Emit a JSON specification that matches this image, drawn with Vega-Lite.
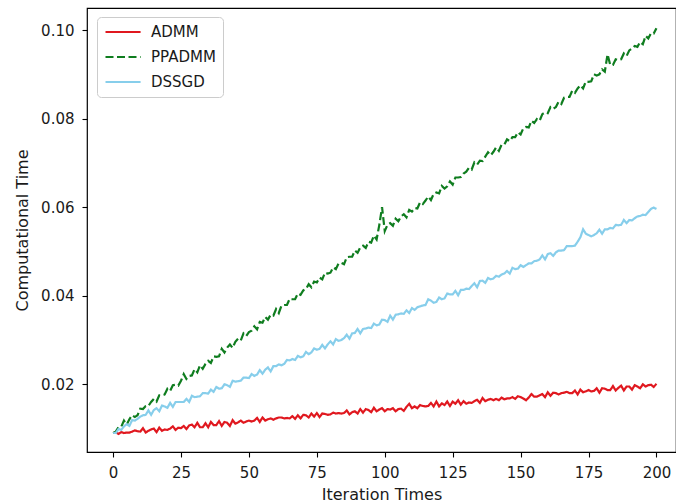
{
"$schema": "https://vega.github.io/schema/vega-lite/v6.json",
"width": 589, "height": 444,
"autosize": {"type": "none"},
"padding": {"left": 87, "top": 8, "right": 0, "bottom": 51},
"background": "white",
"config": {
  "font": "DejaVu Sans",
  "view": {"stroke": "black", "strokeWidth": 1.2},
  "axis": {"grid": false, "domain": false, "tickColor": "black", "tickSize": 5, "tickWidth": 1.1, "labelFont": "DejaVu Sans", "labelFontSize": 15, "labelColor": "#1a1a1a", "labelPadding": 8, "titleFont": "DejaVu Sans", "titleFontSize": 16, "titleFontWeight": "normal", "titleColor": "#1a1a1a"}
},
"data": {"values": [
{"t":0,"ADMM":0.0090,"PPADMM":0.0090,"DSSGD":0.0090},
{"t":1,"ADMM":0.0091,"PPADMM":0.0093,"DSSGD":0.0090},
{"t":2,"ADMM":0.0088,"PPADMM":0.0103,"DSSGD":0.0099},
{"t":3,"ADMM":0.0092,"PPADMM":0.0104,"DSSGD":0.0097},
{"t":4,"ADMM":0.0090,"PPADMM":0.0118,"DSSGD":0.0105},
{"t":5,"ADMM":0.0091,"PPADMM":0.0109,"DSSGD":0.0110},
{"t":6,"ADMM":0.0091,"PPADMM":0.0121,"DSSGD":0.0106},
{"t":7,"ADMM":0.0093,"PPADMM":0.0130,"DSSGD":0.0119},
{"t":8,"ADMM":0.0096,"PPADMM":0.0126,"DSSGD":0.0118},
{"t":9,"ADMM":0.0094,"PPADMM":0.0130,"DSSGD":0.0122},
{"t":10,"ADMM":0.0093,"PPADMM":0.0145,"DSSGD":0.0127},
{"t":11,"ADMM":0.0101,"PPADMM":0.0144,"DSSGD":0.0130},
{"t":12,"ADMM":0.0091,"PPADMM":0.0151,"DSSGD":0.0131},
{"t":13,"ADMM":0.0095,"PPADMM":0.0151,"DSSGD":0.0141},
{"t":14,"ADMM":0.0098,"PPADMM":0.0160,"DSSGD":0.0131},
{"t":15,"ADMM":0.0100,"PPADMM":0.0167,"DSSGD":0.0142},
{"t":16,"ADMM":0.0092,"PPADMM":0.0161,"DSSGD":0.0146},
{"t":17,"ADMM":0.0102,"PPADMM":0.0175,"DSSGD":0.0139},
{"t":18,"ADMM":0.0095,"PPADMM":0.0175,"DSSGD":0.0152},
{"t":19,"ADMM":0.0098,"PPADMM":0.0177,"DSSGD":0.0150},
{"t":20,"ADMM":0.0097,"PPADMM":0.0190,"DSSGD":0.0147},
{"t":21,"ADMM":0.0100,"PPADMM":0.0185,"DSSGD":0.0158},
{"t":22,"ADMM":0.0105,"PPADMM":0.0198,"DSSGD":0.0149},
{"t":23,"ADMM":0.0097,"PPADMM":0.0199,"DSSGD":0.0160},
{"t":24,"ADMM":0.0102,"PPADMM":0.0197,"DSSGD":0.0160},
{"t":25,"ADMM":0.0101,"PPADMM":0.0208,"DSSGD":0.0160},
{"t":26,"ADMM":0.0106,"PPADMM":0.0223,"DSSGD":0.0160},
{"t":27,"ADMM":0.0099,"PPADMM":0.0212,"DSSGD":0.0167},
{"t":28,"ADMM":0.0107,"PPADMM":0.0219,"DSSGD":0.0160},
{"t":29,"ADMM":0.0109,"PPADMM":0.0220,"DSSGD":0.0174},
{"t":30,"ADMM":0.0103,"PPADMM":0.0234,"DSSGD":0.0171},
{"t":31,"ADMM":0.0113,"PPADMM":0.0227,"DSSGD":0.0172},
{"t":32,"ADMM":0.0103,"PPADMM":0.0243,"DSSGD":0.0173},
{"t":33,"ADMM":0.0103,"PPADMM":0.0235,"DSSGD":0.0180},
{"t":34,"ADMM":0.0112,"PPADMM":0.0246,"DSSGD":0.0180},
{"t":35,"ADMM":0.0103,"PPADMM":0.0253,"DSSGD":0.0179},
{"t":36,"ADMM":0.0115,"PPADMM":0.0248,"DSSGD":0.0188},
{"t":37,"ADMM":0.0108,"PPADMM":0.0263,"DSSGD":0.0183},
{"t":38,"ADMM":0.0108,"PPADMM":0.0262,"DSSGD":0.0194},
{"t":39,"ADMM":0.0117,"PPADMM":0.0263,"DSSGD":0.0190},
{"t":40,"ADMM":0.0106,"PPADMM":0.0280,"DSSGD":0.0191},
{"t":41,"ADMM":0.0115,"PPADMM":0.0272,"DSSGD":0.0200},
{"t":42,"ADMM":0.0113,"PPADMM":0.0283,"DSSGD":0.0198},
{"t":43,"ADMM":0.0106,"PPADMM":0.0290,"DSSGD":0.0194},
{"t":44,"ADMM":0.0119,"PPADMM":0.0282,"DSSGD":0.0208},
{"t":45,"ADMM":0.0111,"PPADMM":0.0296,"DSSGD":0.0206},
{"t":46,"ADMM":0.0114,"PPADMM":0.0303,"DSSGD":0.0207},
{"t":47,"ADMM":0.0118,"PPADMM":0.0299,"DSSGD":0.0208},
{"t":48,"ADMM":0.0113,"PPADMM":0.0315,"DSSGD":0.0215},
{"t":49,"ADMM":0.0116,"PPADMM":0.0309,"DSSGD":0.0215},
{"t":50,"ADMM":0.0118,"PPADMM":0.0318,"DSSGD":0.0214},
{"t":51,"ADMM":0.0116,"PPADMM":0.0321,"DSSGD":0.0223},
{"t":52,"ADMM":0.0118,"PPADMM":0.0331,"DSSGD":0.0219},
{"t":53,"ADMM":0.0124,"PPADMM":0.0324,"DSSGD":0.0222},
{"t":54,"ADMM":0.0115,"PPADMM":0.0341,"DSSGD":0.0232},
{"t":55,"ADMM":0.0125,"PPADMM":0.0339,"DSSGD":0.0224},
{"t":56,"ADMM":0.0118,"PPADMM":0.0352,"DSSGD":0.0233},
{"t":57,"ADMM":0.0121,"PPADMM":0.0346,"DSSGD":0.0238},
{"t":58,"ADMM":0.0123,"PPADMM":0.0357,"DSSGD":0.0229},
{"t":59,"ADMM":0.0120,"PPADMM":0.0355,"DSSGD":0.0241},
{"t":60,"ADMM":0.0123,"PPADMM":0.0370,"DSSGD":0.0241},
{"t":61,"ADMM":0.0125,"PPADMM":0.0361,"DSSGD":0.0245},
{"t":62,"ADMM":0.0125,"PPADMM":0.0378,"DSSGD":0.0243},
{"t":63,"ADMM":0.0123,"PPADMM":0.0379,"DSSGD":0.0246},
{"t":64,"ADMM":0.0124,"PPADMM":0.0379,"DSSGD":0.0255},
{"t":65,"ADMM":0.0123,"PPADMM":0.0393,"DSSGD":0.0254},
{"t":66,"ADMM":0.0128,"PPADMM":0.0392,"DSSGD":0.0257},
{"t":67,"ADMM":0.0122,"PPADMM":0.0392,"DSSGD":0.0255},
{"t":68,"ADMM":0.0130,"PPADMM":0.0405,"DSSGD":0.0264},
{"t":69,"ADMM":0.0123,"PPADMM":0.0402,"DSSGD":0.0261},
{"t":70,"ADMM":0.0131,"PPADMM":0.0412,"DSSGD":0.0263},
{"t":71,"ADMM":0.0130,"PPADMM":0.0415,"DSSGD":0.0273},
{"t":72,"ADMM":0.0125,"PPADMM":0.0426,"DSSGD":0.0268},
{"t":73,"ADMM":0.0134,"PPADMM":0.0419,"DSSGD":0.0272},
{"t":74,"ADMM":0.0127,"PPADMM":0.0432,"DSSGD":0.0281},
{"t":75,"ADMM":0.0135,"PPADMM":0.0430,"DSSGD":0.0278},
{"t":76,"ADMM":0.0126,"PPADMM":0.0441,"DSSGD":0.0280},
{"t":77,"ADMM":0.0134,"PPADMM":0.0437,"DSSGD":0.0289},
{"t":78,"ADMM":0.0133,"PPADMM":0.0452,"DSSGD":0.0281},
{"t":79,"ADMM":0.0131,"PPADMM":0.0450,"DSSGD":0.0290},
{"t":80,"ADMM":0.0132,"PPADMM":0.0452,"DSSGD":0.0297},
{"t":81,"ADMM":0.0136,"PPADMM":0.0464,"DSSGD":0.0290},
{"t":82,"ADMM":0.0134,"PPADMM":0.0460,"DSSGD":0.0302},
{"t":83,"ADMM":0.0135,"PPADMM":0.0473,"DSSGD":0.0298},
{"t":84,"ADMM":0.0134,"PPADMM":0.0474,"DSSGD":0.0300},
{"t":85,"ADMM":0.0135,"PPADMM":0.0471,"DSSGD":0.0304},
{"t":86,"ADMM":0.0141,"PPADMM":0.0487,"DSSGD":0.0312},
{"t":87,"ADMM":0.0132,"PPADMM":0.0488,"DSSGD":0.0303},
{"t":88,"ADMM":0.0137,"PPADMM":0.0488,"DSSGD":0.0315},
{"t":89,"ADMM":0.0139,"PPADMM":0.0502,"DSSGD":0.0316},
{"t":90,"ADMM":0.0134,"PPADMM":0.0497,"DSSGD":0.0325},
{"t":91,"ADMM":0.0144,"PPADMM":0.0509,"DSSGD":0.0315},
{"t":92,"ADMM":0.0136,"PPADMM":0.0513,"DSSGD":0.0325},
{"t":93,"ADMM":0.0144,"PPADMM":0.0508,"DSSGD":0.0326},
{"t":94,"ADMM":0.0142,"PPADMM":0.0522,"DSSGD":0.0328},
{"t":95,"ADMM":0.0137,"PPADMM":0.0520,"DSSGD":0.0327},
{"t":96,"ADMM":0.0147,"PPADMM":0.0536,"DSSGD":0.0337},
{"t":97,"ADMM":0.0139,"PPADMM":0.0527,"DSSGD":0.0333},
{"t":98,"ADMM":0.0143,"PPADMM":0.0560,"DSSGD":0.0335},
{"t":99,"ADMM":0.0146,"PPADMM":0.0600,"DSSGD":0.0346},
{"t":100,"ADMM":0.0139,"PPADMM":0.0546,"DSSGD":0.0345},
{"t":101,"ADMM":0.0144,"PPADMM":0.0560,"DSSGD":0.0341},
{"t":102,"ADMM":0.0143,"PPADMM":0.0564,"DSSGD":0.0355},
{"t":103,"ADMM":0.0146,"PPADMM":0.0558,"DSSGD":0.0346},
{"t":104,"ADMM":0.0139,"PPADMM":0.0574,"DSSGD":0.0357},
{"t":105,"ADMM":0.0144,"PPADMM":0.0568,"DSSGD":0.0358},
{"t":106,"ADMM":0.0145,"PPADMM":0.0579,"DSSGD":0.0360},
{"t":107,"ADMM":0.0140,"PPADMM":0.0584,"DSSGD":0.0359},
{"t":108,"ADMM":0.0149,"PPADMM":0.0577,"DSSGD":0.0367},
{"t":109,"ADMM":0.0156,"PPADMM":0.0594,"DSSGD":0.0361},
{"t":110,"ADMM":0.0146,"PPADMM":0.0590,"DSSGD":0.0372},
{"t":111,"ADMM":0.0150,"PPADMM":0.0598,"DSSGD":0.0368},
{"t":112,"ADMM":0.0146,"PPADMM":0.0597,"DSSGD":0.0374},
{"t":113,"ADMM":0.0153,"PPADMM":0.0611,"DSSGD":0.0376},
{"t":114,"ADMM":0.0151,"PPADMM":0.0607,"DSSGD":0.0378},
{"t":115,"ADMM":0.0150,"PPADMM":0.0615,"DSSGD":0.0379},
{"t":116,"ADMM":0.0151,"PPADMM":0.0624,"DSSGD":0.0392},
{"t":117,"ADMM":0.0158,"PPADMM":0.0616,"DSSGD":0.0389},
{"t":118,"ADMM":0.0150,"PPADMM":0.0630,"DSSGD":0.0384},
{"t":119,"ADMM":0.0161,"PPADMM":0.0633,"DSSGD":0.0386},
{"t":120,"ADMM":0.0150,"PPADMM":0.0631,"DSSGD":0.0396},
{"t":121,"ADMM":0.0157,"PPADMM":0.0648,"DSSGD":0.0392},
{"t":122,"ADMM":0.0153,"PPADMM":0.0642,"DSSGD":0.0394},
{"t":123,"ADMM":0.0161,"PPADMM":0.0647,"DSSGD":0.0405},
{"t":124,"ADMM":0.0151,"PPADMM":0.0658,"DSSGD":0.0403},
{"t":125,"ADMM":0.0161,"PPADMM":0.0651,"DSSGD":0.0403},
{"t":126,"ADMM":0.0156,"PPADMM":0.0667,"DSSGD":0.0411},
{"t":127,"ADMM":0.0164,"PPADMM":0.0667,"DSSGD":0.0401},
{"t":128,"ADMM":0.0154,"PPADMM":0.0668,"DSSGD":0.0413},
{"t":129,"ADMM":0.0162,"PPADMM":0.0676,"DSSGD":0.0413},
{"t":130,"ADMM":0.0156,"PPADMM":0.0680,"DSSGD":0.0416},
{"t":131,"ADMM":0.0159,"PPADMM":0.0689,"DSSGD":0.0415},
{"t":132,"ADMM":0.0158,"PPADMM":0.0685,"DSSGD":0.0422},
{"t":133,"ADMM":0.0162,"PPADMM":0.0701,"DSSGD":0.0428},
{"t":134,"ADMM":0.0165,"PPADMM":0.0696,"DSSGD":0.0419},
{"t":135,"ADMM":0.0158,"PPADMM":0.0705,"DSSGD":0.0433},
{"t":136,"ADMM":0.0169,"PPADMM":0.0704,"DSSGD":0.0434},
{"t":137,"ADMM":0.0162,"PPADMM":0.0714,"DSSGD":0.0429},
{"t":138,"ADMM":0.0165,"PPADMM":0.0724,"DSSGD":0.0440},
{"t":139,"ADMM":0.0167,"PPADMM":0.0717,"DSSGD":0.0437},
{"t":140,"ADMM":0.0164,"PPADMM":0.0725,"DSSGD":0.0439},
{"t":141,"ADMM":0.0167,"PPADMM":0.0735,"DSSGD":0.0445},
{"t":142,"ADMM":0.0164,"PPADMM":0.0727,"DSSGD":0.0443},
{"t":143,"ADMM":0.0170,"PPADMM":0.0741,"DSSGD":0.0448},
{"t":144,"ADMM":0.0166,"PPADMM":0.0741,"DSSGD":0.0450},
{"t":145,"ADMM":0.0168,"PPADMM":0.0753,"DSSGD":0.0456},
{"t":146,"ADMM":0.0168,"PPADMM":0.0749,"DSSGD":0.0450},
{"t":147,"ADMM":0.0171,"PPADMM":0.0758,"DSSGD":0.0463},
{"t":148,"ADMM":0.0167,"PPADMM":0.0758,"DSSGD":0.0460},
{"t":149,"ADMM":0.0173,"PPADMM":0.0769,"DSSGD":0.0461},
{"t":150,"ADMM":0.0171,"PPADMM":0.0764,"DSSGD":0.0469},
{"t":151,"ADMM":0.0168,"PPADMM":0.0778,"DSSGD":0.0465},
{"t":152,"ADMM":0.0164,"PPADMM":0.0781,"DSSGD":0.0469},
{"t":153,"ADMM":0.0170,"PPADMM":0.0780,"DSSGD":0.0473},
{"t":154,"ADMM":0.0178,"PPADMM":0.0795,"DSSGD":0.0473},
{"t":155,"ADMM":0.0172,"PPADMM":0.0790,"DSSGD":0.0478},
{"t":156,"ADMM":0.0172,"PPADMM":0.0799,"DSSGD":0.0479},
{"t":157,"ADMM":0.0175,"PPADMM":0.0795,"DSSGD":0.0482},
{"t":158,"ADMM":0.0178,"PPADMM":0.0810,"DSSGD":0.0491},
{"t":159,"ADMM":0.0171,"PPADMM":0.0814,"DSSGD":0.0482},
{"t":160,"ADMM":0.0182,"PPADMM":0.0812,"DSSGD":0.0494},
{"t":161,"ADMM":0.0174,"PPADMM":0.0826,"DSSGD":0.0496},
{"t":162,"ADMM":0.0181,"PPADMM":0.0822,"DSSGD":0.0490},
{"t":163,"ADMM":0.0180,"PPADMM":0.0826,"DSSGD":0.0498},
{"t":164,"ADMM":0.0177,"PPADMM":0.0838,"DSSGD":0.0502},
{"t":165,"ADMM":0.0180,"PPADMM":0.0833,"DSSGD":0.0502},
{"t":166,"ADMM":0.0181,"PPADMM":0.0847,"DSSGD":0.0503},
{"t":167,"ADMM":0.0183,"PPADMM":0.0849,"DSSGD":0.0512},
{"t":168,"ADMM":0.0180,"PPADMM":0.0849,"DSSGD":0.0512},
{"t":169,"ADMM":0.0180,"PPADMM":0.0863,"DSSGD":0.0512},
{"t":170,"ADMM":0.0186,"PPADMM":0.0858,"DSSGD":0.0513},
{"t":171,"ADMM":0.0177,"PPADMM":0.0868,"DSSGD":0.0522},
{"t":172,"ADMM":0.0188,"PPADMM":0.0875,"DSSGD":0.0532},
{"t":173,"ADMM":0.0182,"PPADMM":0.0868,"DSSGD":0.0550},
{"t":174,"ADMM":0.0184,"PPADMM":0.0884,"DSSGD":0.0540},
{"t":175,"ADMM":0.0187,"PPADMM":0.0883,"DSSGD":0.0537},
{"t":176,"ADMM":0.0184,"PPADMM":0.0884,"DSSGD":0.0534},
{"t":177,"ADMM":0.0185,"PPADMM":0.0900,"DSSGD":0.0537},
{"t":178,"ADMM":0.0191,"PPADMM":0.0897,"DSSGD":0.0541},
{"t":179,"ADMM":0.0181,"PPADMM":0.0900,"DSSGD":0.0549},
{"t":180,"ADMM":0.0191,"PPADMM":0.0911,"DSSGD":0.0540},
{"t":181,"ADMM":0.0190,"PPADMM":0.0906,"DSSGD":0.0550},
{"t":182,"ADMM":0.0187,"PPADMM":0.0945,"DSSGD":0.0550},
{"t":183,"ADMM":0.0187,"PPADMM":0.0921,"DSSGD":0.0553},
{"t":184,"ADMM":0.0196,"PPADMM":0.0921,"DSSGD":0.0552},
{"t":185,"ADMM":0.0186,"PPADMM":0.0934,"DSSGD":0.0560},
{"t":186,"ADMM":0.0192,"PPADMM":0.0932,"DSSGD":0.0559},
{"t":187,"ADMM":0.0197,"PPADMM":0.0934,"DSSGD":0.0560},
{"t":188,"ADMM":0.0186,"PPADMM":0.0947,"DSSGD":0.0571},
{"t":189,"ADMM":0.0195,"PPADMM":0.0941,"DSSGD":0.0564},
{"t":190,"ADMM":0.0195,"PPADMM":0.0954,"DSSGD":0.0571},
{"t":191,"ADMM":0.0188,"PPADMM":0.0958,"DSSGD":0.0570},
{"t":192,"ADMM":0.0198,"PPADMM":0.0964,"DSSGD":0.0575},
{"t":193,"ADMM":0.0195,"PPADMM":0.0962,"DSSGD":0.0579},
{"t":194,"ADMM":0.0191,"PPADMM":0.0973,"DSSGD":0.0580},
{"t":195,"ADMM":0.0200,"PPADMM":0.0968,"DSSGD":0.0583},
{"t":196,"ADMM":0.0195,"PPADMM":0.0987,"DSSGD":0.0582},
{"t":197,"ADMM":0.0198,"PPADMM":0.0981,"DSSGD":0.0589},
{"t":198,"ADMM":0.0199,"PPADMM":0.0993,"DSSGD":0.0596},
{"t":199,"ADMM":0.0194,"PPADMM":0.0992,"DSSGD":0.0599},
{"t":200,"ADMM":0.0201,"PPADMM":0.1004,"DSSGD":0.0596}
]},
"transform": [{"fold": ["ADMM", "PPADMM", "DSSGD"], "as": ["method", "time"]}],
"mark": {"type": "line", "strokeWidth": 2.2, "clip": true},
"encoding": {
  "x": {"field": "t", "type": "quantitative", "scale": {"domain": [-9.6, 207.2], "nice": false, "zero": false},
        "axis": {"values": [0, 25, 50, 75, 100, 125, 150, 175, 200], "title": "Iteration Times", "titlePadding": 6}},
  "y": {"field": "time", "type": "quantitative", "scale": {"domain": [0.00471, 0.10497], "nice": false, "zero": false},
        "axis": {"values": [0.02, 0.04, 0.06, 0.08, 0.1], "format": ".2f", "title": "Computational Time", "titlePadding": 10}},
  "color": {"field": "method", "type": "nominal",
            "scale": {"domain": ["ADMM", "PPADMM", "DSSGD"], "range": ["#e0181f", "#0f7d1f", "#87ceeb"]},
            "legend": {"orient": "none", "legendX": 10, "legendY": 9, "title": null, "padding": 7, "fillColor": "white", "strokeColor": "#cccccc", "cornerRadius": 4, "symbolType": "M-1,0H4.4", "symbolSize": 169, "symbolStrokeWidth": 2.2, "labelFontSize": 15, "labelFont": "DejaVu Sans", "labelOffset": 31, "rowPadding": 9, "labelColor": "#1a1a1a"}},
  "strokeDash": {"field": "method", "type": "nominal",
            "scale": {"domain": ["ADMM", "PPADMM", "DSSGD"], "range": [[1, 0], [8, 3.5], [1, 0]]},
            "legend": {"orient": "none", "legendX": 10, "legendY": 9, "title": null, "padding": 7, "fillColor": "white", "strokeColor": "#cccccc", "cornerRadius": 4, "symbolType": "M-1,0H4.4", "symbolSize": 169, "symbolStrokeWidth": 2.2, "labelFontSize": 15, "labelFont": "DejaVu Sans", "labelOffset": 31, "rowPadding": 9, "labelColor": "#1a1a1a"}}
}
}
